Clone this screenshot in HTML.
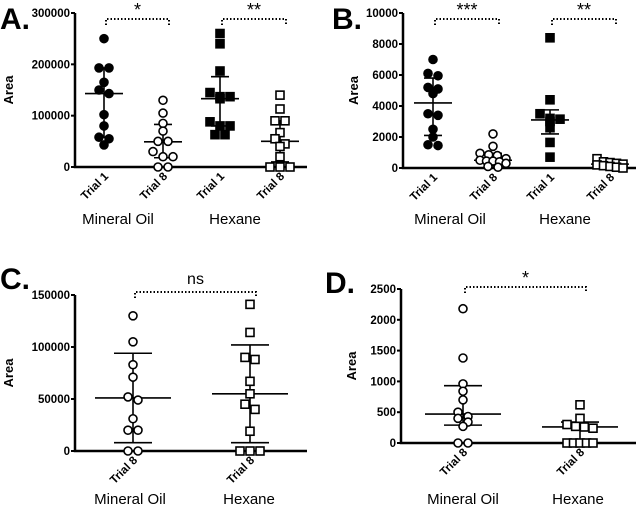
<!DOCTYPE html>
<html><head><meta charset="utf-8"><style>
body{margin:0;background:#fff;}
svg{display:block;font-family:"Liberation Sans",Arial,sans-serif;}
</style></head><body>
<svg id="fig" width="638" height="510" viewBox="0 0 638 510"></svg>
<script>
// ---- Data ----
const catsA = ["Trial 1","Trial 8","Trial 1","Trial 8"];
const A_mo1 = [250000,193000,193000,165000,150000,143000,102000,80000,58000,55000,43000];
const A_mo8 = [130000,105000,85000,70000,50000,50000,30000,20000,20000,0,0];
const A_hx1 = [260000,240000,187000,145000,137000,133000,137000,88000,80000,80000,63000,63000];
const A_hx8 = [140000,113000,90000,90000,67000,55000,45000,40000,20000,0,0,0];
const A_mean = [143000,49000,133000,50000];
const A_sdHi = [193000,83000,176000,90000];
const A_sdLo = [58000,18000,80000,10000];
const A_ticks = [0,100000,200000,300000];

const B_mo1 = [7000,6100,5950,5200,5100,4800,3500,3400,2500,2000,1450,1500];
const B_mo8 = [2200,1400,950,850,800,600,500,450,450,400,300,100,50];
const B_hx1 = [8400,4400,3500,3200,3000,3150,2600,1650,700];
const B_hx8 = [600,400,350,300,250,200,150,100,50,0];
const B_mean = [4200,500,3100,250];
const B_sdHi = [5800,950,3750,350];
const B_sdLo = [2100,150,2200,100];
const B_ticks = [0,2000,4000,6000,8000,10000];

const catsC = ["Trial 8","Trial 8"];
const C_mo = [130000,105000,83000,71000,52000,49000,31000,20000,20000,0,0];
const C_hx = [141000,114000,90000,88000,67000,55000,45000,40000,19000,0,0,0];
const C_mean = [51000,55000];
const C_sdHi = [94000,102000];
const C_sdLo = [8000,8000];
const C_ticks = [0,50000,100000,150000];

const D_mo = [2180,1380,960,840,700,500,430,400,340,270,0,0];
const D_hx = [620,400,300,270,260,240,0,0,0,0,0];
const D_mean = [470,260];
const D_sdHi = [930,340];
const D_sdLo = [290,0];
const D_ticks = [0,500,1000,1500,2000,2500];

const NS = "http://www.w3.org/2000/svg";
const svg = document.getElementById('fig');
function mk(tag, attrs, parent){
  const e = document.createElementNS(NS, tag);
  for (const k in attrs) e.setAttribute(k, attrs[k]);
  (parent||svg).appendChild(e);
  return e;
}
function txt(s, attrs, parent){ const t = mk('text', attrs, parent); t.textContent = s; return t; }

function panel(cfg){
  const g = mk('g', {});
  
  
  const y = v => cfg.y0 - (v - 0) / cfg.max * (cfg.y0 - cfg.yTop);
  const L = txt(cfg.letter, {x: cfg.lx, y: cfg.ly, 'font-size': 30, 'font-weight': 'bold'}, g);
  
  
  const ax = mk('path', {d:`M${cfg.ax},${cfg.yTop} V${cfg.y0} H${cfg.xEnd}`, stroke:'#000', 'stroke-width':2.5, fill:'none'}, g);
  
  
  cfg.ticks.forEach(t => {
    mk('line', {x1:cfg.ax-4, x2:cfg.ax, y1:y(t), y2:y(t), stroke:'#000', 'stroke-width':2}, g);
    const tl = txt(String(t), {x:cfg.ax-5, y:y(t)+4, 'font-size':11.5, 'font-weight':'bold', 'text-anchor':'end'}, g);
    
    
  });
  const yt = txt('Area', {x:0, y:0, 'font-size':13, 'font-weight':'bold', 'text-anchor':'middle', transform:`translate(${cfg.ax-cfg.titleOff},${(cfg.y0+cfg.yTop)/2}) rotate(-90)`}, g);
  
  
  cfg.series.forEach((vals, i) => {
    const cx = cfg.centers[i];
    const sg = mk('g', {}, g);
    
    
    const hw = cfg.meanW, cw = cfg.capW;
    mk('line', {x1:cx, x2:cx, y1:y(cfg.sdHi[i]), y2:y(cfg.sdLo[i]), stroke:'#000', 'stroke-width':1.6}, sg);
    mk('line', {x1:cx-hw, x2:cx+hw, y1:y(cfg.mean[i]), y2:y(cfg.mean[i]), stroke:'#000', 'stroke-width':1.6}, sg);
    mk('line', {x1:cx-cw, x2:cx+cw, y1:y(cfg.sdHi[i]), y2:y(cfg.sdHi[i]), stroke:'#000', 'stroke-width':1.6}, sg);
    mk('line', {x1:cx-cw, x2:cx+cw, y1:y(cfg.sdLo[i]), y2:y(cfg.sdLo[i]), stroke:'#000', 'stroke-width':1.6}, sg);
    const pts = vals.map(v => ({v, py:y(v)})).sort((a,b)=>a.py-b.py);
    const groups = [];
    pts.forEach(p => {
      const last = groups[groups.length-1];
      if (last && p.py - last[0].py < 6) last.push(p); else groups.push([p]);
    });
    const fill = cfg.filled[i] ? '#000' : '#fff';
    const sq = cfg.square[i];
    groups.forEach(gr => {
      const n = gr.length;
      const sp = n > 1 ? Math.min(10, 26/(n-1)) : 0;
      gr.forEach((p, k) => {
        const px = cx + (k - (n-1)/2) * sp;
        let m;
        if (sq) m = mk('rect', {x:px-4, y:p.py-4, width:8, height:8, fill, stroke:'#000', 'stroke-width':1.6}, sg);
        else m = mk('circle', {cx:px, cy:p.py, r:4, fill, stroke:'#000', 'stroke-width':1.6}, sg);
        
        
      });
    });
    const cl = txt(cfg.cats[i], {x:0, y:0, 'font-size':11.5, 'font-weight':'bold', 'text-anchor':'end', transform:`translate(${cx+5},${cfg.y0+10}) rotate(-45)`}, g);
    
    
  });
  cfg.groups.forEach(gl => {
    const t = txt(gl.t, {x:gl.x, y:gl.y, 'font-size':15, 'text-anchor':'middle'}, g);
    
    
  });
  cfg.brackets.forEach(b => {
    const bg = mk('g', {}, g);
    
    
    const x1 = cfg.centers[b.a]+2, x2 = cfg.centers[b.b]+6;
    mk('path', {d:`M${x1},${b.y+6} V${b.y} H${x2} V${b.y+6}`, stroke:'#000', 'stroke-width':2, 'stroke-dasharray':'1.5 2', fill:'none'}, bg);
    txt(b.t, {x:(x1+x2)/2, y:b.ty, 'font-size':b.t==='ns'?16:18, 'text-anchor':'middle'}, bg);
  });
}

panel({name:'panel-a', letter:'A.', lx:0, ly:29, ax:75, xEnd:307, y0:167, yTop:13, max:300000, ticks:A_ticks, titleOff:62,
  centers:[104,163,220,280], cats:catsA, series:[A_mo1,A_mo8,A_hx1,A_hx8], mean:A_mean, sdHi:A_sdHi, sdLo:A_sdLo,
  filled:[true,false,true,false], square:[false,false,true,true], meanW:19, capW:9,
  groups:[{t:'Mineral Oil',x:118,y:224},{t:'Hexane',x:235,y:224}],
  brackets:[{a:0,b:1,y:19,t:'*',ty:16},{a:2,b:3,y:19,t:'**',ty:16}]});

panel({name:'panel-b', letter:'B.', lx:332, ly:29, ax:403, xEnd:636, y0:168, yTop:13, max:10000, ticks:B_ticks, titleOff:45,
  centers:[433,493,550,610], cats:catsA, series:[B_mo1,B_mo8,B_hx1,B_hx8], mean:B_mean, sdHi:B_sdHi, sdLo:B_sdLo,
  filled:[true,false,true,false], square:[false,false,true,true], meanW:19, capW:9,
  groups:[{t:'Mineral Oil',x:450,y:224},{t:'Hexane',x:565,y:224}],
  brackets:[{a:0,b:1,y:19,t:'***',ty:16},{a:2,b:3,y:19,t:'**',ty:16}]});

panel({name:'panel-c', letter:'C.', lx:0, ly:289, ax:75, xEnd:307, y0:451, yTop:295, max:150000, ticks:C_ticks, titleOff:62,
  centers:[133,250], cats:catsC, series:[C_mo,C_hx], mean:C_mean, sdHi:C_sdHi, sdLo:C_sdLo,
  filled:[false,false], square:[false,true], meanW:38, capW:19,
  groups:[{t:'Mineral Oil',x:130,y:504},{t:'Hexane',x:249,y:504}],
  brackets:[{a:0,b:1,y:292,t:'ns',ty:284}]});

panel({name:'panel-d', letter:'D.', lx:325, ly:293, ax:401, xEnd:636, y0:443, yTop:289, max:2500, ticks:D_ticks, titleOff:45,
  centers:[463,580], cats:catsC, series:[D_mo,D_hx], mean:D_mean, sdHi:D_sdHi, sdLo:D_sdLo,
  filled:[false,false], square:[false,true], meanW:38, capW:19,
  groups:[{t:'Mineral Oil',x:463,y:504},{t:'Hexane',x:578,y:504}],
  brackets:[{a:0,b:1,y:287,t:'*',ty:284}]});
</script>
</body></html>
